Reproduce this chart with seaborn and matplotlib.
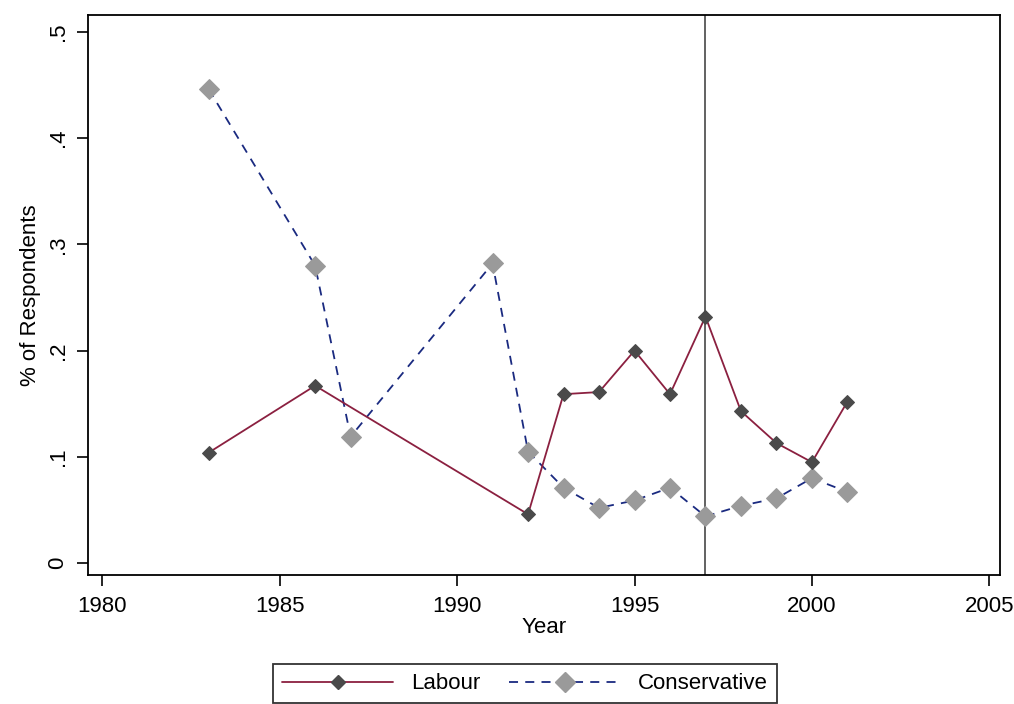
import matplotlib
matplotlib.use("Agg")
import matplotlib.pyplot as plt
import seaborn as sns
import pandas as pd
from matplotlib.lines import Line2D

labour_years = [1983, 1986, 1992, 1993, 1994, 1995, 1996, 1997, 1998, 1999, 2000, 2001]
labour_vals = [0.104, 0.167, 0.046, 0.159, 0.161, 0.200, 0.159, 0.232, 0.143, 0.113, 0.095, 0.152]
cons_years = [1983, 1986, 1987, 1991, 1992, 1993, 1994, 1995, 1996, 1997, 1998, 1999, 2000, 2001]
cons_vals = [0.446, 0.280, 0.119, 0.282, 0.105, 0.071, 0.052, 0.059, 0.071, 0.044, 0.054, 0.061, 0.080, 0.067]
x_ticks = [1980, 1985, 1990, 1995, 2000, 2005]
y_ticks = [0, 0.1, 0.2, 0.3, 0.4, 0.5]
y_labels = ["0", ".1", ".2", ".3", ".4", ".5"]
vline_year = 1997

sns.set_style("white")
plt.rcParams['font.family'] = ['Liberation Sans', 'DejaVu Sans']
plt.rcParams['text.color'] = 'black'
plt.rcParams['axes.labelcolor'] = 'black'
plt.rcParams['xtick.color'] = 'black'
plt.rcParams['ytick.color'] = 'black'

lab = pd.DataFrame({"Year": labour_years, "val": labour_vals})
con = pd.DataFrame({"Year": cons_years, "val": cons_vals})

fig = plt.figure(figsize=(10.14, 7.04), dpi=100)
ax = fig.add_axes([0.0868, 0.183, 0.8994, 0.796])

ax.axvline(vline_year, color="#555555", lw=1.3, zorder=1)

sns.lineplot(data=con, x="Year", y="val", ax=ax, color="#1a2a80", lw=1.3,
             linestyle=(0, (5, 4)), marker="D", markersize=10,
             markerfacecolor="#9a9a9a", markeredgecolor="#9a9a9a", zorder=2)
sns.lineplot(data=lab, x="Year", y="val", ax=ax, color="#8b2040", lw=1.3,
             marker="D", markersize=7,
             markerfacecolor="#4a4a4a", markeredgecolor="#4a4a4a", zorder=3)

ax.set_xlim(1979.6, 2005.3)
ax.set_ylim(-0.0113, 0.516)
ax.set_xticks(x_ticks)
ax.set_yticks(y_ticks)
ax.set_yticklabels(y_labels, rotation=90, va="center")
ax.tick_params(axis="both", direction="out", length=8, width=1.2, labelsize=16,
               bottom=True, left=True, color="black", labelcolor="black")
ax.tick_params(axis="x", pad=7)
ax.tick_params(axis="y", pad=6)
ax.set_xlabel("Year", fontsize=16, labelpad=0)
ax.set_ylabel("% of Respondents", fontsize=16, labelpad=5)
for s in ax.spines.values():
    s.set_color("black")
    s.set_linewidth(1.3)

handles = [
    Line2D([], [], color="#8b2040", lw=1.3, marker="D", markersize=7,
           markerfacecolor="#4a4a4a", markeredgecolor="#4a4a4a"),
    Line2D([], [], color="#1a2a80", lw=1.3, linestyle=(0, (5, 4)), marker="D",
           markersize=10, markerfacecolor="#9a9a9a", markeredgecolor="#9a9a9a"),
]
leg = fig.legend(handles, ["Labour", "Conservative"], loc="upper center",
                 bbox_to_anchor=(0.518, 0.072), ncol=2, fontsize=16,
                 handlelength=5.0, frameon=True, fancybox=False,
                 edgecolor="black", columnspacing=1.3, borderpad=0.4)
leg.get_frame().set_linewidth(1.3)

fig.savefig("out.png", dpi=100)
